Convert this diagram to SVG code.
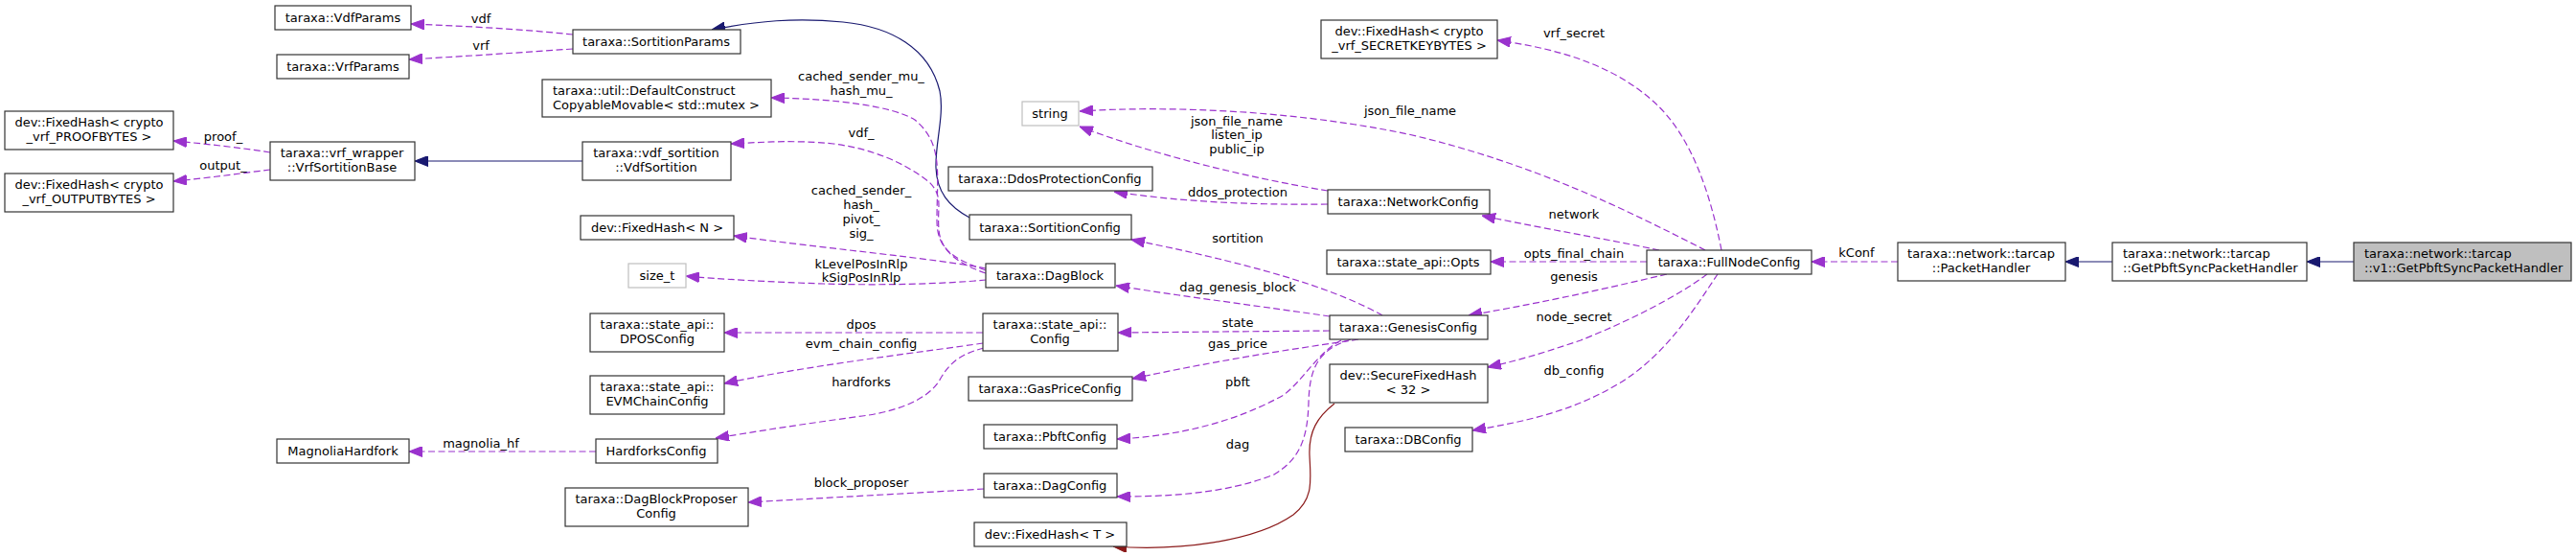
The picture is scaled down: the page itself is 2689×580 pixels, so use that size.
<svg xmlns="http://www.w3.org/2000/svg" width="2689" height="580" viewBox="0 0 2689 580">
<style>
.n rect{fill:#fff;stroke:#333;stroke-width:1.2}
.n.g rect{stroke:#bfbfbf}
.n.m rect{fill:#bfbfbf}
text{font-family:"DejaVu Sans","Liberation Sans",sans-serif;font-size:13px;fill:#000}
.n text{text-anchor:middle}
.n text.l{text-anchor:start}
.e path{fill:none;stroke-width:1.2}
.u{stroke:#9a32cd;stroke-dasharray:7,3.5;marker-end:url(#ap)}
.i{stroke:#191970;marker-end:url(#ab)}
.r{stroke:#8b1a1a;marker-end:url(#ar)}
.lb text{text-anchor:middle}
</style>
<defs>
<marker id="ap" markerUnits="userSpaceOnUse" markerWidth="14" markerHeight="11" viewBox="0 0 13 10" refX="13" refY="5" orient="auto"><path d="M0,0L13,5L0,10z" fill="#9a32cd" stroke="#9a32cd" stroke-dasharray="none"/></marker>
<marker id="ab" markerUnits="userSpaceOnUse" markerWidth="14" markerHeight="11" viewBox="0 0 13 10" refX="13" refY="5" orient="auto"><path d="M0,0L13,5L0,10z" fill="#191970" stroke="#191970"/></marker>
<marker id="ar" markerUnits="userSpaceOnUse" markerWidth="14" markerHeight="11" viewBox="0 0 13 10" refX="13" refY="5" orient="auto"><path d="M0,0L13,5L0,10z" fill="#8b1a1a" stroke="#8b1a1a"/></marker>
</defs>
<rect width="2689" height="580" fill="#fff"/>
<g id="edges" class="e">
<path class="u" d="M282,159 C250,154 215,150 181,147"/>
<path class="u" d="M282,177 C250,181 215,186 181,189"/>
<path class="u" d="M598,36 C540,30 480,27 429,25"/>
<path class="u" d="M598,51 C540,55 480,59 427,62"/>
<path class="i" d="M608,168 L433,168"/>
<path class="i" d="M1012,227 C990,215 978,200 977,175 C976,150 986,120 981,95 C970,50 930,28 880,23 C830,18 790,22 743,31"/>
<path class="u" d="M1029,282 C995,270 978,260 978,230 C978,180 985,150 955,125 C930,110 870,103 805,102"/>
<path class="u" d="M1029,285 C1000,275 982,262 980,240 C978,215 985,205 970,190 C945,170 910,155 870,150 C830,146 800,148 763,150"/>
<path class="u" d="M1029,280 C980,270 850,258 766,246"/>
<path class="u" d="M1029,292 C990,296 920,298 860,296 C800,294 750,291 716,288"/>
<path class="u" d="M1443,329 C1400,305 1330,280 1181,250"/>
<path class="u" d="M1388,330 C1320,320 1240,310 1165,298"/>
<path class="u" d="M1388,345 L1167,347"/>
<path class="u" d="M1418,354 C1380,360 1300,370 1182,395"/>
<path class="u" d="M1400,355 C1375,368 1362,395 1340,412 C1290,440 1230,455 1166,458"/>
<path class="u" d="M1410,354 C1375,365 1367,385 1366,420 C1365,460 1355,480 1330,495 C1280,515 1220,518 1166,518"/>
<path class="r" d="M1393,421 C1375,435 1366,450 1367,475 C1368,500 1372,520 1350,537 C1310,565 1230,575 1162,570"/>
<path class="u" d="M1026,347 L756,347"/>
<path class="u" d="M1026,358 C980,365 850,380 756,400"/>
<path class="u" d="M1027,363 C1000,370 990,380 980,398 C965,420 930,430 900,434 C840,442 790,450 747,457"/>
<path class="u" d="M622,471 L427,471"/>
<path class="u" d="M1027,510 C960,514 850,520 781,524"/>
<path class="u" d="M1386,199 C1300,185 1200,160 1127,132"/>
<path class="u" d="M1386,213 C1300,214 1230,210 1163,200"/>
<path class="u" d="M1780,261 C1700,220 1600,170 1470,140 C1350,115 1220,110 1127,116"/>
<path class="u" d="M1797,261 C1785,200 1765,140 1725,105 C1680,65 1620,50 1563,42"/>
<path class="u" d="M1732,261 C1680,250 1620,240 1547,225"/>
<path class="u" d="M1719,273 L1556,273"/>
<path class="u" d="M1740,286 C1680,300 1620,314 1533,329"/>
<path class="u" d="M1782,286 C1750,310 1700,335 1650,355 C1620,365 1590,375 1553,383"/>
<path class="u" d="M1793,286 C1770,320 1740,370 1690,400 C1640,430 1590,440 1537,449"/>
<path class="u" d="M1981,273 L1891,273"/>
<path class="i" d="M2205,273 L2156,273"/>
<path class="i" d="M2457,273 L2408,273"/>
</g>
<g id="edge-labels" class="lb">
<text x="233" y="147">proof_</text>
<text x="233" y="177">output_</text>
<text x="502" y="24">vdf</text>
<text x="502" y="52">vrf</text>
<text x="502" y="467">magnolia_hf</text>
<text x="899" y="84">cached_sender_mu_</text>
<text x="899" y="99">hash_mu_</text>
<text x="899" y="143">vdf_</text>
<text x="899" y="203">cached_sender_</text>
<text x="899" y="218">hash_</text>
<text x="899" y="233">pivot_</text>
<text x="899" y="248">sig_</text>
<text x="899" y="280">kLevelPosInRlp</text>
<text x="899" y="294">kSigPosInRlp</text>
<text x="899" y="343">dpos</text>
<text x="899" y="363">evm_chain_config</text>
<text x="899" y="403">hardforks</text>
<text x="899" y="508">block_proposer</text>
<text x="1291" y="131">json_file_name</text>
<text x="1291" y="145">listen_ip</text>
<text x="1291" y="160">public_ip</text>
<text x="1292" y="205">ddos_protection</text>
<text x="1292" y="253">sortition</text>
<text x="1292" y="304">dag_genesis_block</text>
<text x="1292" y="341">state</text>
<text x="1292" y="363">gas_price</text>
<text x="1292" y="403">pbft</text>
<text x="1292" y="468">dag</text>
<text x="1643" y="39">vrf_secret</text>
<text x="1472" y="120">json_file_name</text>
<text x="1643" y="228">network</text>
<text x="1643" y="269">opts_final_chain</text>
<text x="1643" y="293">genesis</text>
<text x="1643" y="335">node_secret</text>
<text x="1643" y="391">db_config</text>
<text x="1938" y="268">kConf</text>
</g>
<g id="VdfParams" class="n"><rect x="287" y="6" width="142" height="25"/><text x="358" y="23">taraxa::VdfParams</text></g>
<g id="VrfParams" class="n"><rect x="289" y="57" width="138" height="25"/><text x="358" y="74">taraxa::VrfParams</text></g>
<g id="FixedHashProof" class="n"><rect x="5" y="116" width="176" height="40"/><text x="93" y="132">dev::FixedHash&lt; crypto</text><text x="93" y="147">_vrf_PROOFBYTES &gt;</text></g>
<g id="FixedHashOutput" class="n"><rect x="5" y="181" width="176" height="40"/><text x="93" y="197">dev::FixedHash&lt; crypto</text><text x="93" y="212">_vrf_OUTPUTBYTES &gt;</text></g>
<g id="VrfSortitionBase" class="n"><rect x="282" y="148" width="151" height="40"/><text x="357" y="164">taraxa::vrf_wrapper</text><text x="357" y="179">::VrfSortitionBase</text></g>
<g id="MagnoliaHardfork" class="n"><rect x="289" y="458" width="138" height="25"/><text x="358" y="475">MagnoliaHardfork</text></g>
<g id="SortitionParams" class="n"><rect x="598" y="31" width="175" height="25"/><text x="685" y="48">taraxa::SortitionParams</text></g>
<g id="DefaultConstruct" class="n"><rect x="566" y="83" width="239" height="39"/><text class="l" x="577" y="99">taraxa::util::DefaultConstruct</text><text class="l" x="577" y="114">CopyableMovable&lt; std::mutex &gt;</text></g>
<g id="VdfSortition" class="n"><rect x="608" y="148" width="155" height="40"/><text x="685" y="164">taraxa::vdf_sortition</text><text x="685" y="179">::VdfSortition</text></g>
<g id="FixedHashN" class="n"><rect x="606" y="225" width="160" height="25"/><text x="686" y="242">dev::FixedHash&lt; N &gt;</text></g>
<g id="size_t" class="n g"><rect x="656" y="275" width="60" height="25"/><text x="686" y="292">size_t</text></g>
<g id="DPOSConfig" class="n"><rect x="616" y="327" width="140" height="40"/><text x="686" y="343">taraxa::state_api::</text><text x="686" y="358">DPOSConfig</text></g>
<g id="EVMChainConfig" class="n"><rect x="616" y="392" width="140" height="40"/><text x="686" y="408">taraxa::state_api::</text><text x="686" y="423">EVMChainConfig</text></g>
<g id="HardforksConfig" class="n"><rect x="622" y="458" width="127" height="25"/><text x="685" y="475">HardforksConfig</text></g>
<g id="DagBlockProposerConfig" class="n"><rect x="590" y="509" width="191" height="40"/><text x="685" y="525">taraxa::DagBlockProposer</text><text x="685" y="540">Config</text></g>
<g id="string" class="n g"><rect x="1067" y="106" width="59" height="25"/><text x="1096" y="123">string</text></g>
<g id="DdosProtectionConfig" class="n"><rect x="990" y="174" width="213" height="25"/><text x="1096" y="191">taraxa::DdosProtectionConfig</text></g>
<g id="SortitionConfig" class="n"><rect x="1012" y="224" width="169" height="26"/><text x="1096" y="242">taraxa::SortitionConfig</text></g>
<g id="DagBlock" class="n"><rect x="1029" y="275" width="135" height="25"/><text x="1096" y="292">taraxa::DagBlock</text></g>
<g id="StateApiConfig" class="n"><rect x="1026" y="327" width="141" height="39"/><text x="1096" y="343">taraxa::state_api::</text><text x="1096" y="358">Config</text></g>
<g id="GasPriceConfig" class="n"><rect x="1011" y="393" width="171" height="25"/><text x="1096" y="410">taraxa::GasPriceConfig</text></g>
<g id="PbftConfig" class="n"><rect x="1027" y="443" width="139" height="25"/><text x="1096" y="460">taraxa::PbftConfig</text></g>
<g id="DagConfig" class="n"><rect x="1027" y="494" width="139" height="25"/><text x="1096" y="511">taraxa::DagConfig</text></g>
<g id="FixedHashT" class="n"><rect x="1017" y="545" width="159" height="25"/><text x="1096" y="562">dev::FixedHash&lt; T &gt;</text></g>
<g id="FixedHashSecret" class="n"><rect x="1379" y="21" width="184" height="40"/><text x="1471" y="37">dev::FixedHash&lt; crypto</text><text x="1471" y="52">_vrf_SECRETKEYBYTES &gt;</text></g>
<g id="NetworkConfig" class="n"><rect x="1386" y="198" width="169" height="25"/><text x="1470" y="215">taraxa::NetworkConfig</text></g>
<g id="Opts" class="n"><rect x="1385" y="261" width="171" height="25"/><text x="1470" y="278">taraxa::state_api::Opts</text></g>
<g id="FullNodeConfig" class="n"><rect x="1719" y="261" width="172" height="25"/><text x="1805" y="278">taraxa::FullNodeConfig</text></g>
<g id="GenesisConfig" class="n"><rect x="1388" y="329" width="165" height="25"/><text x="1470" y="346">taraxa::GenesisConfig</text></g>
<g id="SecureFixedHash" class="n"><rect x="1388" y="380" width="165" height="40"/><text x="1470" y="396">dev::SecureFixedHash</text><text x="1470" y="411">&lt; 32 &gt;</text></g>
<g id="DBConfig" class="n"><rect x="1404" y="446" width="133" height="25"/><text x="1470" y="463">taraxa::DBConfig</text></g>
<g id="PacketHandler" class="n"><rect x="1981" y="253" width="175" height="40"/><text x="2068" y="269">taraxa::network::tarcap</text><text x="2068" y="284">::PacketHandler</text></g>
<g id="TarcapGetPbftSyncPacketHandler" class="n"><rect x="2205" y="253" width="203" height="40"/><text class="l" x="2216" y="269">taraxa::network::tarcap</text><text class="l" x="2216" y="284">::GetPbftSyncPacketHandler</text></g>
<g id="V1GetPbftSyncPacketHandler" class="n m"><rect x="2457" y="253" width="227" height="40"/><text class="l" x="2468" y="269">taraxa::network::tarcap</text><text class="l" x="2468" y="284">::v1::GetPbftSyncPacketHandler</text></g>
</svg>
